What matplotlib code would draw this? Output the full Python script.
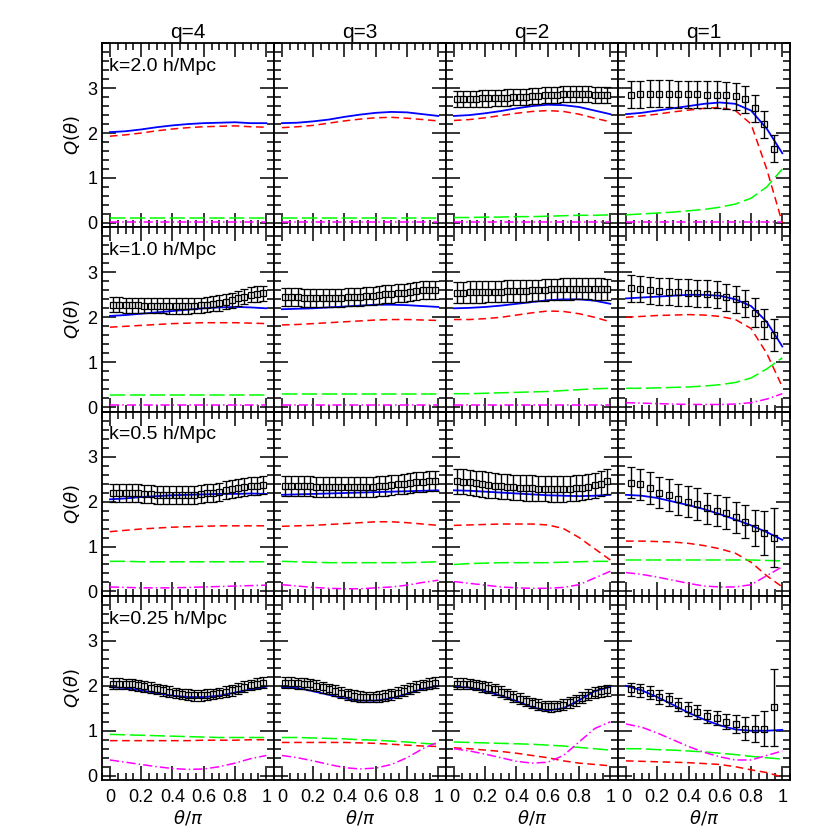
import numpy as np
import matplotlib.pyplot as plt
from matplotlib.ticker import MultipleLocator

plt.rcParams['font.family'] = ['Liberation Sans', 'DejaVu Sans']
plt.rcParams['mathtext.fontset'] = 'dejavusans'

qs = ['q=4', 'q=3', 'q=2', 'q=1']
ks = ['k=2.0 h/Mpc', 'k=1.0 h/Mpc', 'k=0.5 h/Mpc', 'k=0.25 h/Mpc']

xl = [0.0, 0.1, 0.2, 0.3, 0.4, 0.5, 0.6, 0.7, 0.8, 0.9, 1.0]
x25 = [0.02 + 0.04 * i for i in range(25)]
x16 = [0.03 + 0.061 * i for i in range(16)]

# lines: blue (total), red dashed, green long dash, magenta dash-dot
blue = [
 [[2.02,2.04,2.08,2.13,2.17,2.2,2.22,2.23,2.24,2.22,2.22],
  [2.22,2.23,2.26,2.3,2.36,2.41,2.45,2.47,2.46,2.42,2.38],
  [2.38,2.4,2.44,2.49,2.55,2.6,2.63,2.62,2.58,2.5,2.42],
  [2.42,2.45,2.5,2.55,2.6,2.65,2.68,2.65,2.5,2.1,1.55]],
 [[2.03,2.05,2.08,2.11,2.14,2.17,2.2,2.22,2.23,2.22,2.2],
  [2.18,2.19,2.2,2.22,2.24,2.26,2.28,2.28,2.27,2.25,2.23],
  [2.2,2.21,2.23,2.26,2.3,2.34,2.38,2.4,2.4,2.37,2.3],
  [2.42,2.44,2.46,2.48,2.5,2.5,2.48,2.4,2.25,1.9,1.35]],
 [[2.05,2.07,2.1,2.12,2.14,2.15,2.16,2.17,2.17,2.18,2.17],
  [2.15,2.16,2.17,2.18,2.19,2.2,2.21,2.22,2.23,2.24,2.25],
  [2.25,2.24,2.22,2.2,2.18,2.16,2.14,2.13,2.12,2.13,2.15],
  [2.15,2.13,2.08,2.0,1.92,1.83,1.72,1.6,1.47,1.32,1.15]],
 [[1.97,1.95,1.9,1.84,1.78,1.75,1.75,1.78,1.85,1.92,1.98],
  [1.97,1.95,1.88,1.8,1.72,1.67,1.67,1.72,1.82,1.93,2.0],
  [1.98,1.96,1.88,1.78,1.66,1.52,1.45,1.5,1.68,1.88,1.98],
  [2.0,1.9,1.75,1.58,1.4,1.25,1.12,1.03,1.0,1.0,1.02]],
]
red = [
 [[1.93,1.96,2.0,2.05,2.09,2.12,2.14,2.15,2.16,2.14,2.13],
  [2.12,2.14,2.17,2.22,2.27,2.31,2.34,2.35,2.33,2.3,2.27],
  [2.28,2.3,2.34,2.39,2.44,2.48,2.5,2.48,2.42,2.33,2.25],
  [2.35,2.38,2.42,2.47,2.51,2.55,2.57,2.5,2.2,1.2,0.0]],
 [[1.78,1.8,1.82,1.84,1.86,1.87,1.88,1.88,1.88,1.87,1.86],
  [1.83,1.84,1.86,1.88,1.9,1.92,1.94,1.95,1.95,1.94,1.93],
  [1.95,1.95,1.97,2.0,2.05,2.1,2.14,2.13,2.08,2.0,1.9],
  [2.0,2.02,2.04,2.05,2.06,2.05,2.02,1.95,1.75,1.2,0.45]],
 [[1.33,1.36,1.39,1.41,1.43,1.44,1.45,1.46,1.46,1.46,1.46],
  [1.45,1.46,1.47,1.49,1.51,1.53,1.55,1.55,1.53,1.5,1.47],
  [1.47,1.48,1.49,1.5,1.5,1.5,1.48,1.4,1.2,0.95,0.7],
  [1.12,1.12,1.11,1.1,1.07,1.02,0.95,0.85,0.65,0.35,0.1]],
 [[0.78,0.78,0.78,0.78,0.78,0.78,0.79,0.79,0.79,0.8,0.8],
  [0.74,0.74,0.74,0.74,0.74,0.73,0.72,0.7,0.68,0.66,0.65],
  [0.62,0.6,0.57,0.54,0.5,0.45,0.4,0.33,0.28,0.25,0.22],
  [0.33,0.32,0.31,0.3,0.29,0.27,0.25,0.2,0.13,0.07,-0.03]],
]
green = [
 [[0.12]*11, [0.12]*11,
  [0.12,0.12,0.13,0.13,0.14,0.14,0.15,0.16,0.17,0.17,0.18],
  [0.18,0.2,0.22,0.24,0.27,0.3,0.35,0.42,0.55,0.8,1.2]],
 [[0.28]*11, [0.3]*11,
  [0.3,0.3,0.31,0.32,0.33,0.34,0.35,0.37,0.39,0.41,0.42],
  [0.42,0.42,0.43,0.44,0.45,0.47,0.5,0.55,0.65,0.85,1.1]],
 [[0.67,0.67,0.66,0.66,0.66,0.66,0.66,0.66,0.66,0.66,0.66],
  [0.67,0.66,0.65,0.64,0.64,0.64,0.64,0.64,0.64,0.65,0.66],
  [0.6,0.62,0.63,0.64,0.64,0.64,0.64,0.65,0.66,0.67,0.67],
  [0.7,0.7,0.7,0.7,0.7,0.7,0.7,0.7,0.7,0.69,0.68]],
 [[0.92,0.91,0.9,0.89,0.88,0.87,0.86,0.85,0.85,0.85,0.85],
  [0.85,0.85,0.84,0.83,0.82,0.8,0.79,0.77,0.75,0.72,0.7],
  [0.75,0.74,0.73,0.72,0.71,0.7,0.68,0.66,0.63,0.6,0.57],
  [0.6,0.6,0.58,0.57,0.55,0.53,0.5,0.47,0.43,0.4,0.37]],
]
magenta = [
 [[0.02]*11, [0.03]*11, [0.03]*11, [0.03]*11],
 [[0.04]*11, [0.05]*11, [0.05]*11,
  [0.1,0.09,0.08,0.07,0.06,0.06,0.06,0.07,0.1,0.18,0.3]],
 [[0.1,0.09,0.08,0.08,0.08,0.09,0.1,0.11,0.12,0.13,0.14],
  [0.15,0.12,0.09,0.07,0.06,0.06,0.08,0.1,0.14,0.2,0.25],
  [0.22,0.18,0.14,0.1,0.08,0.07,0.07,0.09,0.15,0.3,0.45],
  [0.42,0.38,0.32,0.25,0.18,0.12,0.1,0.1,0.15,0.35,0.55]],
 [[0.35,0.3,0.25,0.2,0.16,0.14,0.15,0.2,0.28,0.38,0.45],
  [0.45,0.4,0.33,0.25,0.18,0.15,0.17,0.25,0.4,0.6,0.75],
  [0.6,0.55,0.48,0.4,0.32,0.28,0.3,0.45,0.75,1.05,1.2],
  [1.15,1.08,0.95,0.8,0.65,0.52,0.42,0.35,0.35,0.45,0.55]],
]

# measured points
pts = {
 (0, 2): [2.75,2.75,2.76,2.76,2.77,2.77,2.78,2.78,2.79,2.8,2.8,2.81,2.82,2.83,2.84,2.84,2.85,2.86,2.86,2.86,2.86,2.86,2.85,2.85,2.84],
 (0, 3): [2.85,2.86,2.87,2.87,2.87,2.86,2.86,2.86,2.85,2.85,2.84,2.82,2.75,2.55,2.2,1.65],
 (1, 0): [2.28,2.28,2.27,2.27,2.27,2.26,2.26,2.26,2.26,2.25,2.25,2.25,2.25,2.26,2.27,2.28,2.3,2.32,2.35,2.38,2.42,2.46,2.5,2.52,2.53],
 (1, 1): [2.45,2.45,2.45,2.44,2.44,2.44,2.44,2.44,2.44,2.44,2.45,2.45,2.46,2.47,2.48,2.5,2.51,2.52,2.53,2.55,2.57,2.58,2.6,2.6,2.61],
 (1, 2): [2.55,2.55,2.56,2.56,2.56,2.57,2.57,2.57,2.58,2.58,2.58,2.59,2.6,2.6,2.61,2.62,2.62,2.63,2.63,2.64,2.64,2.64,2.63,2.63,2.62],
 (1, 3): [2.65,2.63,2.6,2.58,2.57,2.56,2.55,2.54,2.52,2.5,2.45,2.4,2.3,2.1,1.85,1.6],
 (2, 0): [2.2,2.2,2.2,2.19,2.18,2.17,2.16,2.15,2.15,2.14,2.14,2.14,2.15,2.15,2.16,2.18,2.2,2.22,2.25,2.27,2.3,2.32,2.34,2.35,2.36],
 (2, 1): [2.35,2.35,2.35,2.34,2.34,2.33,2.33,2.32,2.32,2.32,2.32,2.32,2.32,2.33,2.33,2.34,2.35,2.36,2.38,2.39,2.41,2.43,2.44,2.45,2.46],
 (2, 2): [2.45,2.44,2.43,2.41,2.39,2.37,2.35,2.34,2.33,2.32,2.31,2.3,2.3,2.29,2.29,2.28,2.28,2.28,2.29,2.3,2.31,2.33,2.36,2.4,2.45],
 (2, 3): [2.42,2.38,2.3,2.2,2.15,2.05,2.0,1.95,1.85,1.8,1.75,1.65,1.55,1.42,1.3,1.2],
 (3, 0): [2.05,2.05,2.04,2.03,2.01,1.99,1.96,1.93,1.9,1.87,1.84,1.82,1.8,1.79,1.79,1.8,1.82,1.84,1.87,1.9,1.94,1.98,2.02,2.05,2.07],
 (3, 1): [2.07,2.07,2.06,2.05,2.03,2.0,1.97,1.93,1.89,1.85,1.81,1.78,1.76,1.75,1.75,1.76,1.78,1.81,1.85,1.89,1.94,1.98,2.02,2.05,2.07],
 (3, 2): [2.05,2.05,2.04,2.02,1.99,1.96,1.92,1.87,1.82,1.76,1.71,1.66,1.62,1.58,1.55,1.54,1.55,1.58,1.63,1.68,1.74,1.8,1.85,1.88,1.9],
 (3, 3): [1.92,1.9,1.85,1.75,1.7,1.58,1.48,1.42,1.32,1.28,1.2,1.15,1.05,1.05,1.05,1.52],
}
errs = {
 (0, 2): 0.18, (0, 3): [0.3]*16,
 (1, 0): 0.17, (1, 1): 0.2, (1, 2): 0.24,
 (1, 3): [0.3,0.3,0.3,0.3,0.3,0.3,0.3,0.3,0.3,0.3,0.3,0.3,0.3,0.32,0.34,0.36],
 (2, 0): 0.2, (2, 1): 0.22, (2, 2): 0.28,
 (2, 3): [0.35,0.35,0.35,0.35,0.35,0.35,0.35,0.35,0.35,0.35,0.35,0.35,0.37,0.4,0.5,0.65],
 (3, 0): 0.12, (3, 1): 0.12, (3, 2): 0.12,
 (3, 3): [0.15,0.15,0.15,0.15,0.15,0.15,0.15,0.15,0.15,0.15,0.17,0.2,0.25,0.3,0.4,0.85],
}

fig, axes = plt.subplots(4, 4, figsize=(8.3, 8.3), dpi=100, sharex=True, sharey=True)
fig.subplots_adjust(left=0.123, right=0.952, top=0.948, bottom=0.06, wspace=0, hspace=0)

for r in range(4):
    for c in range(4):
        ax = axes[r, c]
        ax.plot(xl, blue[r][c], color='#0000ff', lw=1.3)
        ax.plot(xl, red[r][c], color='#ff0000', lw=1.1, dashes=(5, 3))
        ax.plot(xl, green[r][c], color='#00ff00', lw=1.1, dashes=(10, 3))
        ax.plot(xl, magenta[r][c], color='#ff00ff', lw=1.1, dashes=(6, 2, 1, 2))
        if (r, c) in pts:
            xs = x16 if c == 3 else x25
            ax.errorbar(xs, pts[(r, c)], yerr=errs[(r, c)], fmt='s', ms=4, mfc='none',
                        mec='black', mew=0.9, ecolor='black', elinewidth=1.0, capsize=3, capthick=1.0)
        ax.set_xlim(-0.05, 1.05)
        ax.set_ylim(-0.1, 4.0)
        ax.xaxis.set_minor_locator(MultipleLocator(0.05))
        ax.yaxis.set_minor_locator(MultipleLocator(0.2))
        ax.set_yticks([0, 1, 2, 3])
        ax.set_xticks([0, 0.2, 0.4, 0.6, 0.8, 1])
        ax.set_xticklabels(['0', '0.2', '0.4', '0.6', '0.8', '1'])
        ax.tick_params(which='both', direction='in', top=True, right=True, labelsize=13, width=1.1)
        ax.tick_params(which='major', length=10)
        ax.tick_params(which='minor', length=5)
        ax.tick_params(axis='x', pad=6)
        for s in ax.spines.values():
            s.set_linewidth(1.3)
        if r == 0:
            ax.set_title(qs[c], fontsize=15, pad=4)
        if c == 0:
            ax.set_ylabel(r'$Q(\theta)$', fontsize=13)
            ax.text(0.04, 0.92, ks[r], transform=ax.transAxes, fontsize=14, va='top')
        if r == 3:
            ax.set_xlabel(r'$\theta/\pi$', fontsize=13, labelpad=2)

plt.savefig('out.png')
